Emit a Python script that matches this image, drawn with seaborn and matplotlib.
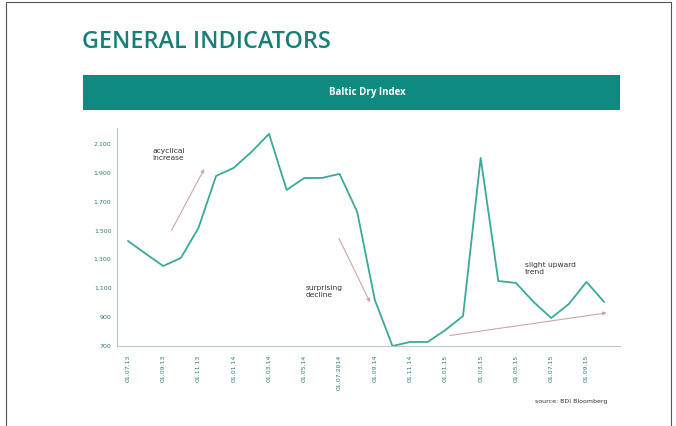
import matplotlib
matplotlib.use("Agg")
import matplotlib.pyplot as plt
import matplotlib.patches as patches
import seaborn as sns
import pandas as pd
import numpy as np

# Baltic Dry Index readings
bdi = [1428, 1340, 1254, 1310, 1518, 1878, 1934, 2044, 2169, 1781,
       1864, 1864, 1892, 1629, 1019, 700, 728, 728, 811, 908,
       2003, 1150, 1137, 1005, 894, 991, 1144, 1005]
dates = ["01.07.13", "01.08.13", "01.09.13", "01.10.13", "01.11.13", "01.12.13",
         "01.01.14", "01.02.14", "01.03.14", "01.04.14", "01.05.14", "01.06.14",
         "01.07.2014", "01.08.14", "01.09.14", "01.10.14", "01.11.14", "01.12.14",
         "01.01.15", "01.02.15", "01.03.15", "01.04.15", "01.05.15", "01.06.15",
         "01.07.15", "01.08.15", "01.09.15", "01.10.15"]
yticks = [700, 900, 1100, 1300, 1500, 1700, 1900, 2100]
ytick_labels = ["700", "900", "1.100", "1.300", "1.500", "1.700", "1.900", "2.100"]

df = pd.DataFrame({"pos": np.arange(len(bdi)), "bdi": bdi, "date": dates})

teal = "#0f8a80"
title_col = "#177f77"
line_col = "#3aa99b"
arrow_col = "#c9a7a7"

sns.set_style("white")
fig = plt.figure(figsize=(6.76, 4.26), dpi=100)

# outer frame
fig.patches.append(patches.Rectangle((6/676, -0.01), 665/676, 1.0 - 2/426 + 0.01,
                                     transform=fig.transFigure, fill=False,
                                     edgecolor="#555555", linewidth=0.8))

fig.text(82/676, 1 - 42/426, "GENERAL INDICATORS", color=title_col, fontsize=16.8,
         fontweight="semibold", family="Open Sans", va="center", ha="left")

fig.patches.append(patches.Rectangle((83/676, 1 - 110/426), 537/676, 35/426,
                                     transform=fig.transFigure, facecolor=teal,
                                     edgecolor="none"))
fig.text(367/676, 1 - 93/426, "Baltic Dry Index", color="white", fontsize=7,
         fontweight="bold", family="Open Sans", ha="center", va="center")

ax = fig.add_axes([117/676, 80/426, 503/676, 218/426])
sns.lineplot(data=df, x="pos", y="bdi", ax=ax, color=line_col, linewidth=1.3)

ax.set_xlim(-0.62, 27.9)
ax.set_ylim(700, 2210)
ax.set_yticks(yticks)
ax.set_yticklabels(ytick_labels)
ax.set_xticks(df["pos"][::2])
ax.set_xticklabels(df["date"][::2], rotation=90)
ax.set_xticks(df["pos"], minor=True)
ax.tick_params(axis="both", labelsize=4.5, labelcolor="#2f7d75", colors="#9fb8b5",
               length=2, width=0.6, pad=2)
ax.tick_params(axis="x", which="minor", length=2, width=0.5, colors="#9fb8b5")
ax.tick_params(axis="x", pad=4)
ax.set_xlabel("")
ax.set_ylabel("")
for s in ["top", "right"]:
    ax.spines[s].set_visible(False)
for s in ["left", "bottom"]:
    ax.spines[s].set_color("#b5c9c6")
    ax.spines[s].set_linewidth(0.8)

# annotations
ax.annotate("", xy=(4.4, 1943), xytext=(2.4, 1485),
            arrowprops=dict(arrowstyle="-|>", color=arrow_col, lw=0.8,
                            mutation_scale=5))
ax.text(1.4, 2025, "acyclical\nincrease", fontsize=5.4, color="#333333",
        va="center", ha="left", linespacing=1.2)

ax.annotate("", xy=(13.8, 985), xytext=(11.9, 1462),
            arrowprops=dict(arrowstyle="-|>", color=arrow_col, lw=0.8,
                            mutation_scale=5))
ax.text(10.1, 1075, "surprising\ndecline", fontsize=5.4, color="#333333",
        va="center", ha="left", linespacing=1.2)

ax.annotate("", xy=(27.3, 932), xytext=(18.1, 770),
            arrowprops=dict(arrowstyle="-|>", color=arrow_col, lw=0.8,
                            mutation_scale=5))
ax.text(22.5, 1240, "slight upward\ntrend", fontsize=5.4, color="#333333",
        va="center", ha="left", linespacing=1.2)

fig.text(607/676, 1 - 401/426, "source: BDI Bloomberg", fontsize=4.5,
         color="#333333", ha="right", va="center")

fig.savefig("out.png", dpi=100)
